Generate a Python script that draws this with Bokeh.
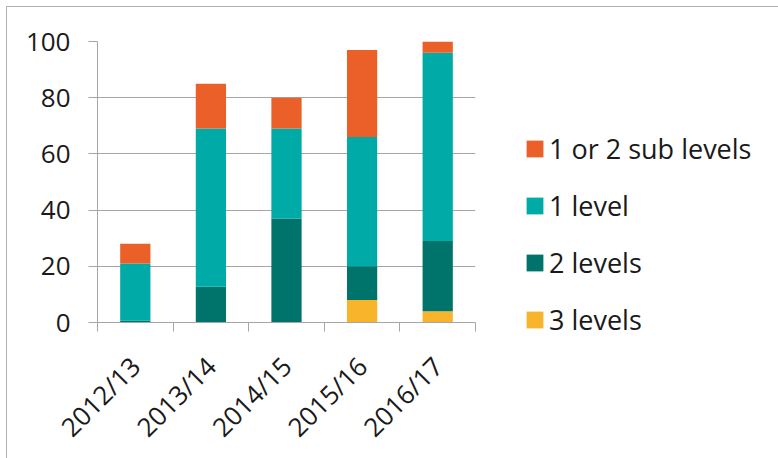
from bokeh.plotting import figure
from bokeh.models import Range1d, FixedTicker, Legend, LegendItem
from bokeh.embed import file_html
from bokeh.resources import INLINE

years = ["2012/13", "2013/14", "2014/15", "2015/16", "2016/17"]
three_levels = [0, 0, 0, 8, 4]
two_levels = [0.6, 12.7, 37, 12, 25]
one_level = [20.4, 56.3, 32, 46, 67]
sub_levels = [7, 16, 11, 31, 4]
series_names = ["3 levels", "2 levels", "1 level", "1 or 2 sub levels"]
colors = ["#F8B42A", "#00736A", "#00AAA6", "#EA6028"]

xs = [i + 0.5 for i in range(len(years))]
data = dict(x=xs, s3=three_levels, s2=two_levels, s1=one_level, s0=sub_levels)

FONT = "Open Sans"
GRID = "#a6a6a6"
TXT = "#1a1a1a"

p = figure(frame_width=378, frame_height=281, x_range=Range1d(0, len(years)), y_range=Range1d(0, 100),
           output_backend="svg", toolbar_location=None,
           min_border_left=90, min_border_right=301, min_border_top=34, min_border_bottom=135)
p.styles = {"border": "1px solid #b0b0b0", "margin-left": "6px", "margin-top": "6px"}
p.outline_line_color = None
p.background_fill_color = "white"
p.border_fill_color = "white"

rs = p.vbar_stack(["s3", "s2", "s1", "s0"], x="x", width=0.4, source=data,
                  color=colors, line_color=None)

# axes
p.xaxis.ticker = FixedTicker(ticks=xs, minor_ticks=list(range(len(years) + 1)))
p.xaxis.major_label_overrides = {x: y for x, y in zip(xs, years)}
p.xaxis.major_tick_out = 0
p.xaxis.major_tick_in = 0
p.xaxis.minor_tick_out = 9
p.xaxis.minor_tick_in = 0
p.xaxis.minor_tick_line_color = GRID
p.xaxis.axis_line_color = GRID
p.xaxis.major_label_orientation = 0.785398
p.xaxis.major_label_standoff = 30
p.xaxis.major_label_text_font = FONT
p.xaxis.major_label_text_font_size = "26px"
p.xaxis.major_label_text_color = TXT

p.yaxis.ticker = FixedTicker(ticks=[0, 20, 40, 60, 80, 100])
p.yaxis.major_tick_out = 9
p.yaxis.major_tick_in = 0
p.yaxis.minor_tick_line_color = None
p.yaxis.major_tick_line_color = GRID
p.yaxis.axis_line_color = GRID
p.yaxis.major_label_standoff = 18
p.yaxis.major_label_text_font = FONT
p.yaxis.major_label_text_font_size = "26px"
p.yaxis.major_label_text_color = TXT

p.xgrid.grid_line_color = None
p.ygrid.grid_line_color = GRID
p.ygrid.ticker = FixedTicker(ticks=[20, 40, 60, 80, 100])

items = [LegendItem(label=n, renderers=[r]) for n, r in zip(series_names, rs)][::-1]
legend = Legend(items=items, location=(49, -17), orientation="vertical",
                glyph_width=21, glyph_height=21, label_height=40, spacing=17,
                label_standoff=4, padding=0, margin=0,
                border_line_color=None, background_fill_alpha=0,
                label_text_font=FONT, label_text_font_size="27px", label_text_color=TXT)
p.add_layout(legend, "right")

open("out.html", "w").write(file_html(p, INLINE))
